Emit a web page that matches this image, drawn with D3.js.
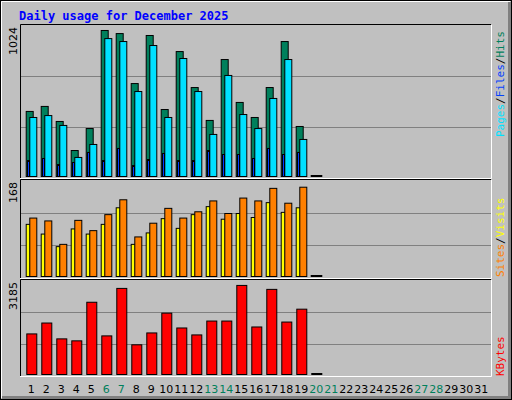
<!DOCTYPE html>
<html><head><script src="https://cdn.jsdelivr.net/npm/d3@7"></script>
<style>body{margin:0;background:#fff}</style></head><body>
<script>
const days = d3.range(1,32);
const hits  = [448,482,380,183,332,997,976,637,963,461,854,610,387,800,509,407,610,922,346,0];
const files = [407,420,353,136,224,942,922,583,895,407,807,583,292,692,427,332,536,800,258,0];
const pages = [115,129,88,102,170,115,197,81,122,163,115,115,183,156,156,129,197,156,170,0];
const visits= [104,99,58,100,82,110,136,71,95,121,104,115,134,112,139,134,156,130,158,2];
const sites = [93,76,54,85,76,93,122,58,78,103,86,110,124,102,112,105,131,114,122,2];
const kbytes= [1409,1778,1241,1174,2482,1342,2951,1040,1442,2113,1610,1375,1845,1845,3052,1644,2918,1811,2247,0];
const weekend = [6,7,13,14,20,21,27,28];
const W=512,H=400;
const svg=d3.select("body").append("svg").attr("width",W).attr("height",H).style("font-family","DejaVu Sans Mono");
svg.append("rect").attr("width",W).attr("height",H).attr("fill","#c0c0c0");
// outer bevel
svg.append("rect").attr("x",0.5).attr("y",0.5).attr("width",W-1).attr("height",H-1).attr("fill","none").attr("stroke","#000");
svg.append("path").attr("d",`M1.5,${H-2}V1.5H${W-2}`).attr("stroke","#fff").attr("fill","none");
svg.append("path").attr("d",`M${W-2.5},2V${H-2.5}H2`).attr("stroke","#808080").attr("stroke-width",3).attr("fill","none");
svg.append("text").attr("x",19).attr("y",20).attr("fill","#0000ff").attr("font-size",12).attr("font-weight","bold").text("Daily usage for December 2025");

const X0=20,X1=491;
const x=d3.scaleLinear().domain([1,2]).range([25.7,40.7]);
function panel(y0,y1,max,label,bars){
  const ys=d3.scaleLinear().domain([0,max]).range([y1-1,y0]);
  const g=svg.append("g");
  [1/3,2/3].forEach(f=>g.append("line").attr("x1",X0).attr("x2",X1).attr("y1",Math.round(y1-1-(y1-1-y0)*f)+0.5).attr("y2",Math.round(y1-1-(y1-1-y0)*f)+0.5).attr("stroke","#808080"));
  bars.forEach(b=>{
    g.selectAll(null).data(b.data).join("rect")
      .attr("x",(d,i)=>x(i+1)+b.off+0.5).attr("width",b.w)
      .attr("y",d=>Math.min(ys(d),y1-3)+0.5).attr("height",d=>Math.max(y1-1-ys(d),2)-1)
      .attr("fill",(d,i)=>d===0?"#000":b.color).attr("stroke","#000");
  });
  g.append("path").attr("d",`M${X0+0.5},${y1}V${y0-1.5}H${X1}`).attr("stroke","#000").attr("fill","none");
  g.append("path").attr("d",`M${X0},${y1+0.5}H${X1+0.5}V${y0-1}`).attr("stroke","#fff").attr("fill","none");
  g.append("text").attr("transform",`translate(17,${y0+1}) rotate(-90)`).attr("text-anchor","end").attr("font-size",11).attr("font-family","DejaVu Sans").text(label);
  return g;
}
panel(26,178,1024,"1024",[
  {data:hits,off:0,w:7,color:"#00805c"},
  {data:files,off:3.6,w:7,color:"#00e0ff"},
  {data:pages,off:1.3,w:2,color:"#0040ff"}]);
panel(181,278,168,"168",[
  {data:sites,off:0,w:4,color:"#ffff00"},
  {data:visits,off:3.6,w:7,color:"#ff8000"}]);
panel(281,376,3185,"3185",[
  {data:kbytes,off:0.6,w:10,color:"#ff0000"}]);

svg.selectAll(".d").data(days).join("text").attr("x",d=>x(d)+5.5).attr("y",393).attr("text-anchor","middle")
  .attr("font-size",11).attr("font-family","DejaVu Sans").attr("fill",d=>weekend.includes(d)?"#00805c":"#000").text(d=>d);

function vlabel(yBottom,parts){
  const t=svg.append("text").attr("transform",`translate(504,${yBottom}) rotate(-90)`).attr("font-size",11);
  parts.forEach(p=>t.append("tspan").attr("fill",p[1]).text(p[0]));
}
vlabel(137,[["Pages","#00e0ff"],["/","#000"],["Files","#0040ff"],["/","#000"],["Hits","#00805c"]]);
vlabel(277,[["Sites","#ff8000"],["/","#000"],["Visits","#ffff00"]]);
vlabel(376,[["KBytes","#ff0000"]]);
</script></body></html>
